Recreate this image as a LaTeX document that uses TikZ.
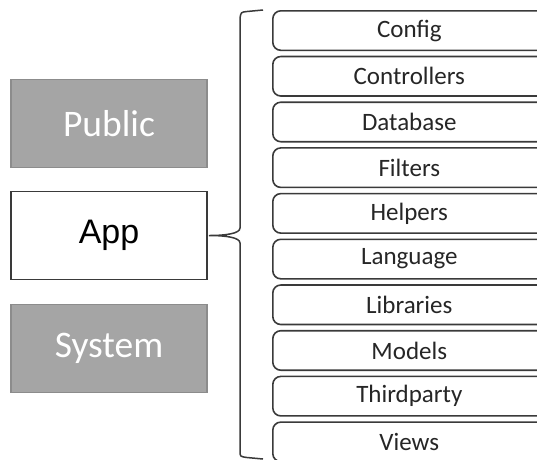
\documentclass[tikz,border=0pt]{standalone}
\usepackage{fontspec}
\setmainfont{Carlito}
\newfontfamily\arialfont{Liberation Sans}
\definecolor{boxgray}{HTML}{A5A5A5}
\definecolor{boxgrayline}{HTML}{8C8C8C}
\definecolor{lineclr}{HTML}{3A3A3A}
\begin{document}
\begin{tikzpicture}[x=1pt,y=-1pt,
  grayblock/.style={draw=boxgrayline,line width=1.2pt,fill=boxgray,text=white,
    minimum width=196pt,minimum height=88pt,inner sep=0pt,font=\fontsize{37.5}{40}\selectfont},
  whiteblock/.style={draw=lineclr,line width=1.3pt,fill=white,text=black,
    minimum width=196pt,minimum height=88pt,inner sep=0pt,font=\arialfont\fontsize{34}{38}\selectfont},
  folder/.style={draw=lineclr,line width=1.6pt,rounded corners=8pt,fill=white,
    minimum width=273pt,minimum height=39.5pt,inner sep=0pt,anchor=north west,
    text=black!85,font=\fontsize{25}{28}\selectfont},
  bracestyle/.style={draw=lineclr,line width=1.5pt}
]
\useasboundingbox (0,0) rectangle (537,459);
\clip (0,0) rectangle (537,459);
\fill[white] (0,0) rectangle (537,459);

\node[grayblock] (public) at (109,123.5) {Public};
\node[whiteblock] (app) at (109,235.5) {\raisebox{-2pt}{App}};
\node[grayblock] (system) at (109,348.5) {System};

\foreach \name/\lbl [count=\i from 0] in {config/Config,controllers/Controllers,database/Database,filters/Filters,helpers/Helpers,language/Language,libraries/Libraries,models/Models,thirdparty/Thirdparty,views/Views}{
  \node[folder] (\name) at (272,{10+45.7*\i}) {\lbl};
}

\coordinate (btop) at (263,10);
\coordinate (bbot) at (263,459);
\coordinate (btip) at (209,235.5);
\draw[bracestyle] (btop) -- (247,11.5) .. controls (241,12.2) .. (240,18)
  -- (240,228) .. controls (240,233.5) and (226,235.5) .. (btip)
  .. controls (226,235.5) and (240,237.5) .. (240,243)
  -- (240,451) .. controls (240,456.5) .. (247,457.5) -- (bbot);
\end{tikzpicture}
\end{document}
